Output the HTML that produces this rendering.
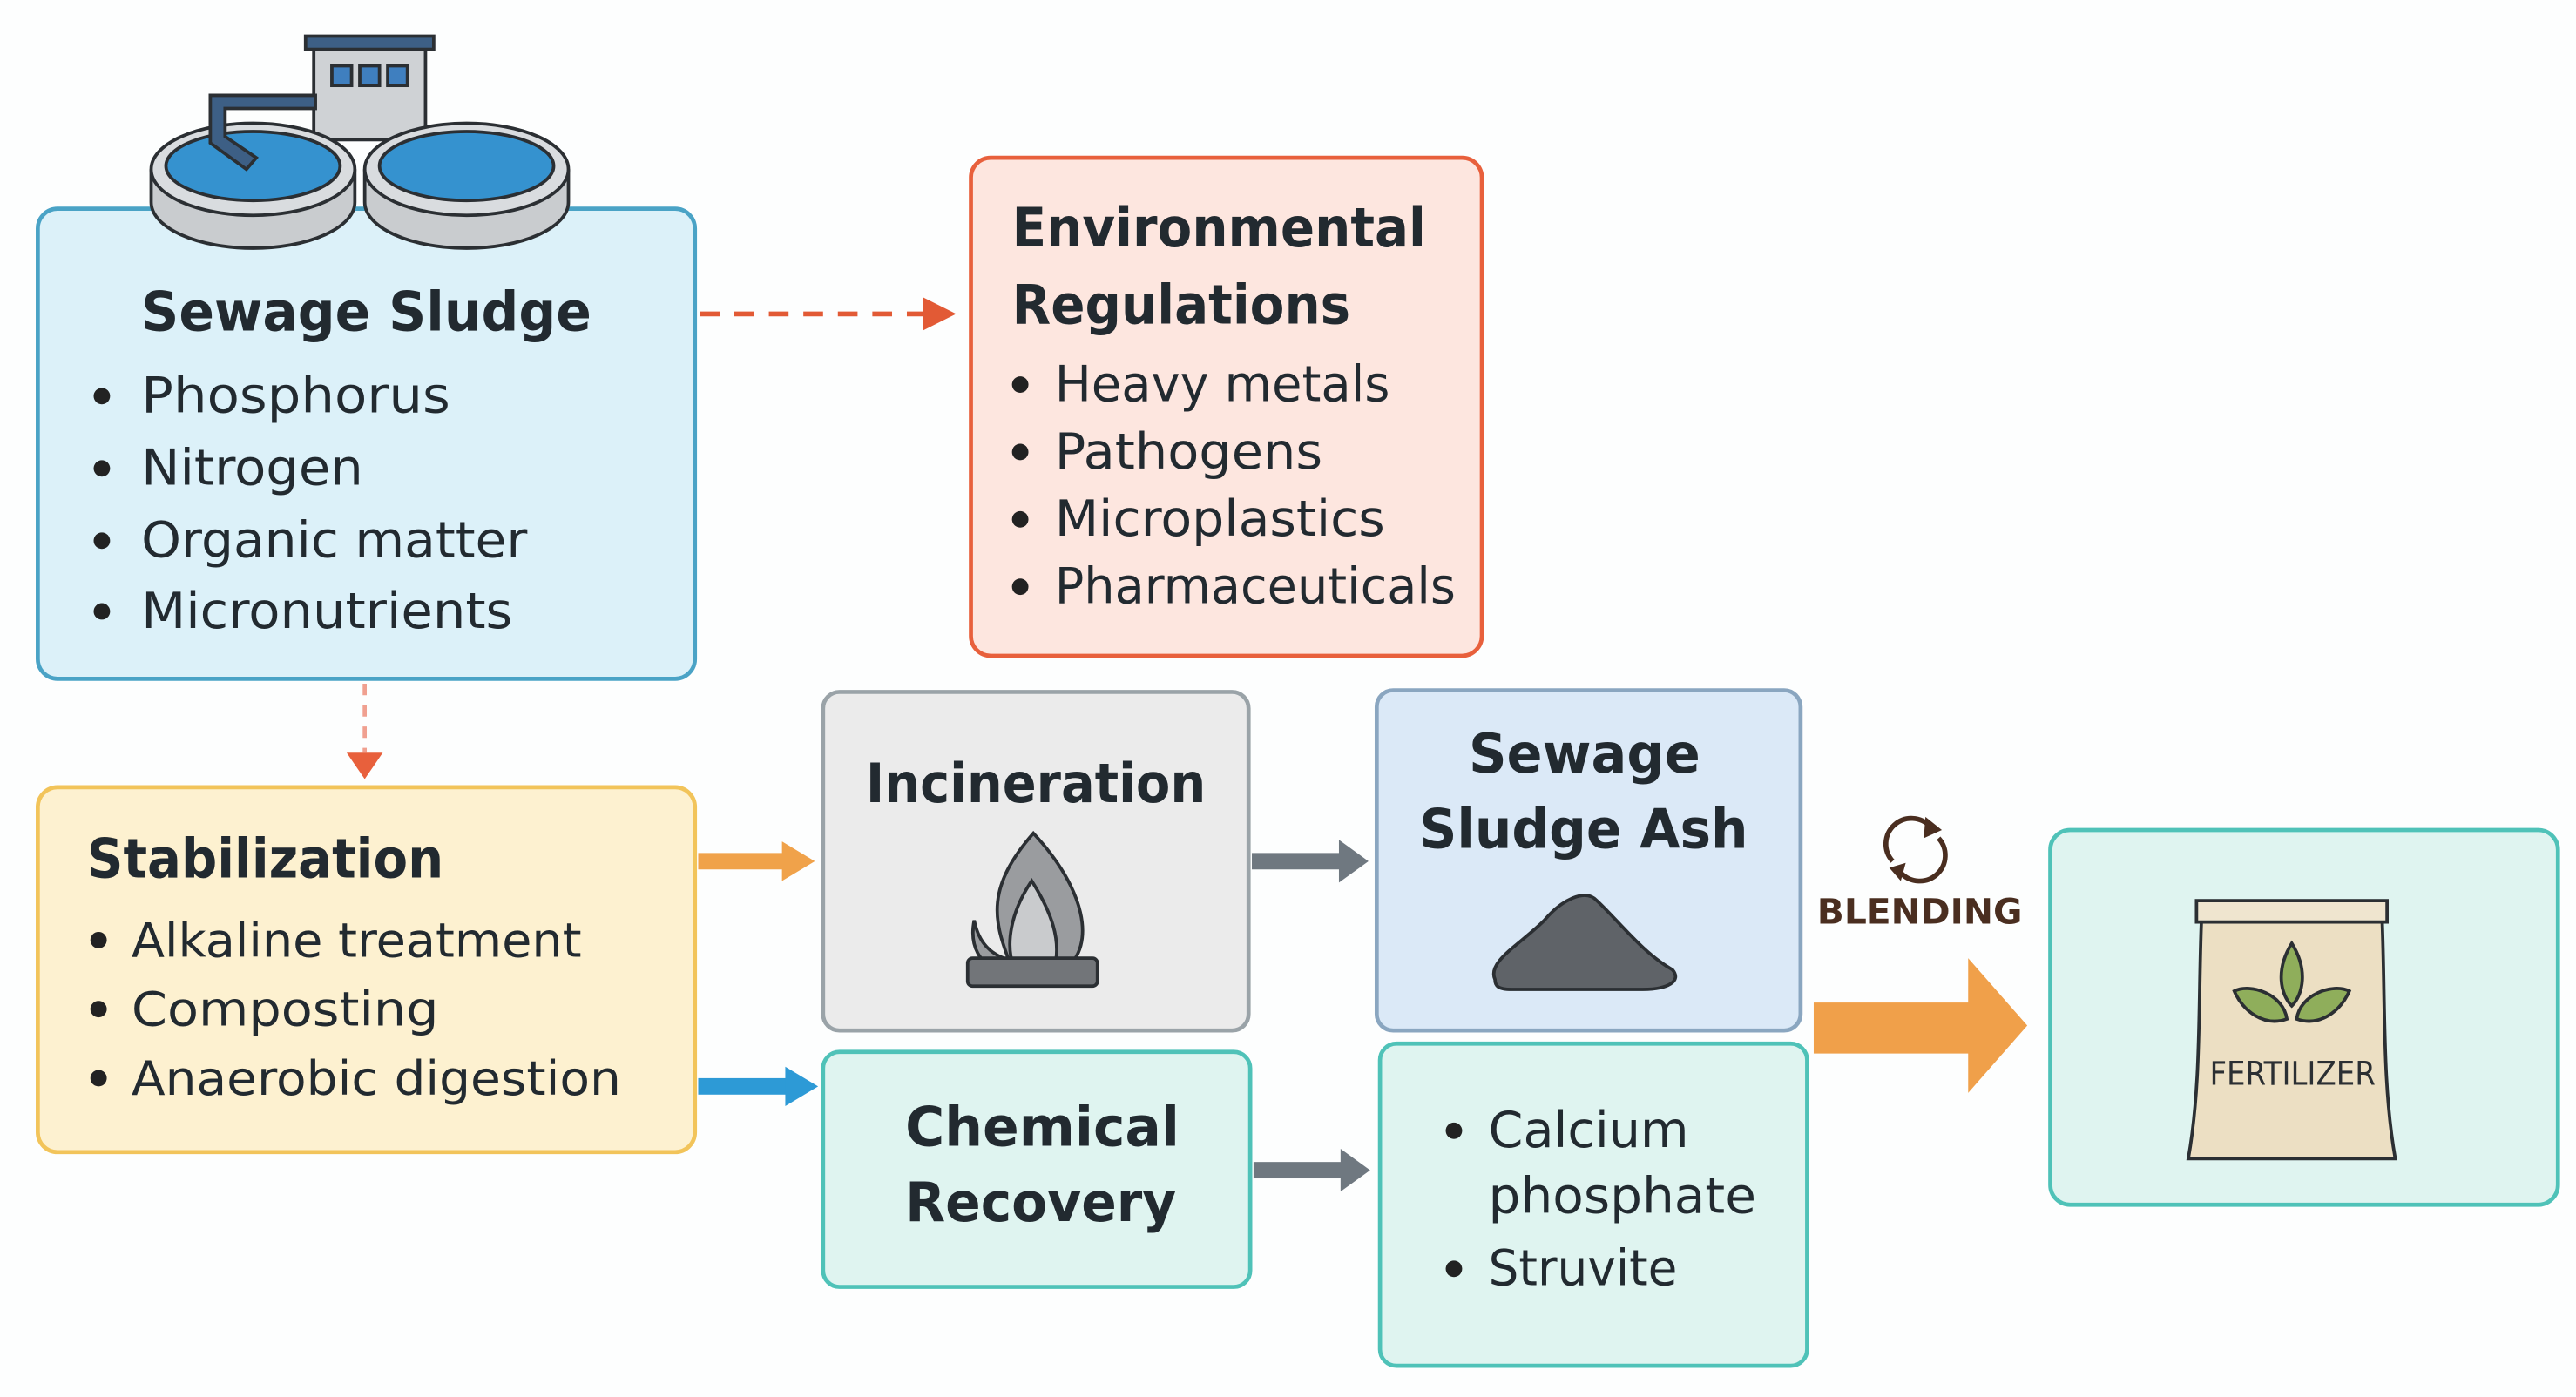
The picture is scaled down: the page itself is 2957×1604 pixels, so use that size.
<!DOCTYPE html>
<html><head><meta charset="utf-8"><style>
html,body{margin:0;padding:0;background:#fff;}
svg{display:block;}
text{font-family:"DejaVu Sans","Liberation Sans",sans-serif;fill:#222a30;}
</style></head><body>
<svg width="2957" height="1604" viewBox="0 0 1568 850" preserveAspectRatio="none" xmlns="http://www.w3.org/2000/svg">
<rect width="1568" height="850" fill="#fdfefe"/>

<rect x="23" y="127" width="400" height="286" rx="12" fill="#dcf1f9" stroke="#4aa3c6" stroke-width="2.5"/>
<g stroke="#2b2f33" stroke-width="2">
<rect x="191" y="30" width="68" height="55" fill="#cfd2d5"/>
<rect x="186" y="22" width="78" height="8" fill="#3d5f85"/>
<rect x="202" y="40" width="12" height="12" fill="#3f7fbf"/>
<rect x="219" y="40" width="12" height="12" fill="#3f7fbf"/>
<rect x="236" y="40" width="12" height="12" fill="#3f7fbf"/>
<path d="M92 103 v20 a62 28 0 0 0 124 0 v-20" fill="#c9cccf"/>
<ellipse cx="154" cy="103" rx="62" ry="28" fill="#d9dcdf"/>
<ellipse cx="154" cy="101" rx="53" ry="21" fill="#3592cf"/>
<path d="M222 103 v20 a62 28 0 0 0 124 0 v-20" fill="#c9cccf"/>
<ellipse cx="284" cy="103" rx="62" ry="28" fill="#d9dcdf"/>
<ellipse cx="284" cy="101" rx="53" ry="21" fill="#3592cf"/>
<path d="M192 58 H128 V87 L150 103 L156 96 L137 83 V66 H192 Z" fill="#3d5f85"/>
</g>
<text x="86" y="201" font-size="33" font-weight="bold" textLength="274" lengthAdjust="spacingAndGlyphs">Sewage Sludge</text>
<g font-size="30">
<circle cx="62" cy="241" r="5" fill="#222"/><text x="86" y="251" textLength="188" lengthAdjust="spacingAndGlyphs">Phosphorus</text>
<circle cx="62" cy="285" r="5" fill="#222"/><text x="86" y="295" textLength="135" lengthAdjust="spacingAndGlyphs">Nitrogen</text>
<circle cx="62" cy="329" r="5" fill="#222"/><text x="86" y="339" textLength="235" lengthAdjust="spacingAndGlyphs">Organic matter</text>
<circle cx="62" cy="372" r="5" fill="#222"/><text x="86" y="382" textLength="226" lengthAdjust="spacingAndGlyphs">Micronutrients</text>
</g>

<line x1="426" y1="191" x2="563" y2="191" stroke="#e25a35" stroke-width="3" stroke-dasharray="12 9"/>
<polygon points="562,181 582,191 562,201" fill="#e25a35"/>

<rect x="591" y="96" width="311" height="303" rx="12" fill="#fde6df" stroke="#e8603c" stroke-width="2.5"/>
<text x="616" y="150" font-size="33" font-weight="bold" textLength="252" lengthAdjust="spacingAndGlyphs">Environmental</text>
<text x="616" y="197" font-size="33" font-weight="bold" textLength="206" lengthAdjust="spacingAndGlyphs">Regulations</text>
<g font-size="30">
<circle cx="621" cy="234" r="5" fill="#222"/><text x="642" y="244" textLength="204" lengthAdjust="spacingAndGlyphs">Heavy metals</text>
<circle cx="621" cy="275" r="5" fill="#222"/><text x="642" y="285" textLength="163" lengthAdjust="spacingAndGlyphs">Pathogens</text>
<circle cx="621" cy="316" r="5" fill="#222"/><text x="642" y="326" textLength="201" lengthAdjust="spacingAndGlyphs">Microplastics</text>
<circle cx="621" cy="357" r="5" fill="#222"/><text x="642" y="367" textLength="244" lengthAdjust="spacingAndGlyphs">Pharmaceuticals</text>
</g>

<line x1="222" y1="416" x2="222" y2="458" stroke="#f0a090" stroke-width="2.5" stroke-dasharray="7 6"/>
<polygon points="211,458 233,458 222,474" fill="#e8603c"/>

<rect x="23" y="479" width="400" height="222" rx="12" fill="#fdf1d0" stroke="#f2c45a" stroke-width="2.5"/>
<text x="53" y="534" font-size="33" font-weight="bold" textLength="217" lengthAdjust="spacingAndGlyphs">Stabilization</text>
<g font-size="29">
<circle cx="60" cy="572" r="5" fill="#222"/><text x="80" y="582" textLength="274" lengthAdjust="spacingAndGlyphs">Alkaline treatment</text>
<circle cx="60" cy="614" r="5" fill="#222"/><text x="80" y="624" textLength="187" lengthAdjust="spacingAndGlyphs">Composting</text>
<circle cx="60" cy="656" r="5" fill="#222"/><text x="80" y="666" textLength="298" lengthAdjust="spacingAndGlyphs">Anaerobic digestion</text>
</g>

<rect x="425" y="519" width="52" height="10" fill="#f0a24a"/>
<polygon points="476,512 496,524 476,536" fill="#f0a24a"/>
<rect x="425" y="656" width="54" height="10" fill="#2d9ad6"/>
<polygon points="478,649 498,661 478,673" fill="#2d9ad6"/>

<rect x="501" y="421" width="259" height="206" rx="10" fill="#ebebeb" stroke="#9aa3a8" stroke-width="2.5"/>
<text x="527" y="488" font-size="33" font-weight="bold" textLength="207" lengthAdjust="spacingAndGlyphs">Incineration</text>
<g stroke="#2b2f33" stroke-width="2">
<path d="M629 507 C600 540 605 560 614 584 C600 580 595 570 593 560 C590 575 596 588 610 590 L648 590 C668 575 660 540 629 507 Z" fill="#9a9c9f"/>
<path d="M628 536 C615 555 612 575 617 588 L642 588 C646 572 640 555 628 536 Z" fill="#c9cbcd"/>
<rect x="589" y="583" width="79" height="17" rx="3" fill="#727579"/>
</g>

<rect x="762" y="519" width="55" height="10" fill="#6f7880"/>
<polygon points="815,511 833,524 815,537" fill="#6f7880"/>
<rect x="763" y="707" width="55" height="10" fill="#6f7880"/>
<polygon points="816,699 834,712 816,725" fill="#6f7880"/>

<rect x="501" y="640" width="260" height="143" rx="10" fill="#dff4f0" stroke="#4fc2b8" stroke-width="2.5"/>
<text x="551" y="697" font-size="33" font-weight="bold" textLength="167" lengthAdjust="spacingAndGlyphs">Chemical</text>
<text x="551" y="743" font-size="33" font-weight="bold" textLength="165" lengthAdjust="spacingAndGlyphs">Recovery</text>

<rect x="838" y="420" width="258" height="207" rx="10" fill="#dbe9f7" stroke="#8aa6c0" stroke-width="2.5"/>
<text x="894" y="470" font-size="33" font-weight="bold" textLength="141" lengthAdjust="spacingAndGlyphs">Sewage</text>
<text x="864" y="516" font-size="33" font-weight="bold" textLength="200" lengthAdjust="spacingAndGlyphs">Sludge Ash</text>
<path d="M910 596 C905 585 925 575 940 560 C950 548 965 540 972 548 C985 560 1000 580 1018 590 C1024 597 1015 602 1000 602 L920 602 C912 602 910 600 910 596 Z" fill="#5f6368" stroke="#2b2f33" stroke-width="2"/>

<rect x="840" y="635" width="260" height="196" rx="10" fill="#dff4f0" stroke="#4fc2b8" stroke-width="2.5"/>
<g font-size="30">
<circle cx="885" cy="688" r="5" fill="#222"/><text x="906" y="698" textLength="122" lengthAdjust="spacingAndGlyphs">Calcium</text>
<text x="906" y="738" textLength="163" lengthAdjust="spacingAndGlyphs">phosphate</text>
<circle cx="885" cy="772" r="5" fill="#222"/><text x="906" y="782" textLength="115" lengthAdjust="spacingAndGlyphs">Struvite</text>
</g>

<g fill="none" stroke="#4a2e20" stroke-width="3">
<path d="M1152 524 A14 14 0 0 1 1175 503"/>
<path d="M1180 510 A14 14 0 0 1 1157 531"/>
</g>
<polygon points="1172,497 1182,505 1171,510" fill="#4a2e20"/>
<polygon points="1160,525 1150,528 1157,536" fill="#4a2e20"/>
<text x="1106" y="562" font-size="21" font-weight="bold" style="fill:#4a2e20" textLength="125" lengthAdjust="spacingAndGlyphs">BLENDING</text>

<rect x="1104" y="610" width="96" height="31" fill="#f0a04a"/>
<polygon points="1198,583 1234,624 1198,665" fill="#f0a04a"/>

<rect x="1248" y="505" width="309" height="228" rx="12" fill="#dff4f0" stroke="#4fc2b8" stroke-width="2.5"/>
<g stroke="#2b2f33" stroke-width="2">
<path d="M1340 560 L1450 560 C1452 610 1450 660 1458 705 L1332 705 C1340 660 1338 610 1340 560 Z" fill="#ecdfc3"/>
<rect x="1337" y="548" width="116" height="13" fill="#efe5cf"/>
<path d="M1395 574 C1385 590 1388 605 1395 612 C1402 605 1405 590 1395 574 Z" fill="#8fae5b"/>
<path d="M1360 603 C1370 598 1390 605 1392 620 C1378 625 1365 615 1360 603 Z" fill="#8fae5b"/>
<path d="M1430 603 C1420 598 1400 605 1398 620 C1412 625 1425 615 1430 603 Z" fill="#8fae5b"/>
</g>
<text x="1345" y="660" font-size="20" style="fill:#2b2f33" textLength="101" lengthAdjust="spacingAndGlyphs">FERTILIZER</text>
</svg>
</body></html>
